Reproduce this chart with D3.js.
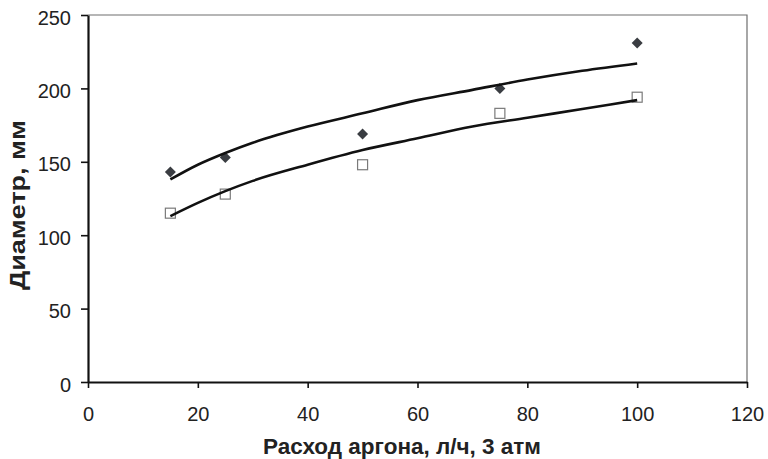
<!DOCTYPE html>
<html>
<head>
<meta charset="utf-8">
<script src="https://cdn.jsdelivr.net/npm/d3@7"></script>
<style>
  body { margin: 0; background: #fff; }
  text { font-family: "Liberation Sans", Arial, sans-serif; }
</style>
</head>
<body>
<svg id="chart"></svg>
<script>
const W = 768, H = 459;
const margin = { top: 15, right: 21, bottom: 77, left: 88 };

// measured points
const flowX = [15, 25, 50, 75, 100];
const diamondY = [143, 153, 169, 200, 231];
const squareY = [115, 128, 148, 183, 194];

// trend lines
const trendX = [15, 20, 25, 30, 40, 50, 60, 70, 80, 90, 100];
const trendUpper = [138, 148, 156, 163, 174, 183, 192, 199, 206, 212, 217];
const trendLower = [113, 122, 130, 137, 148, 158, 166, 174, 180, 186, 192];

const xTicks = [0, 20, 40, 60, 80, 100, 120];
const yTicks = [0, 50, 100, 150, 200, 250];

const width = W - margin.left - margin.right;
const height = H - margin.top - margin.bottom;

const svgEl = d3.select("#chart").attr("width", W).attr("height", H);
const svg = svgEl.append("g").attr("transform", `translate(${margin.left},${margin.top})`);

const x = d3.scaleLinear().domain([0, 120]).range([0, width]);
const y = d3.scaleLinear().domain([0, 250]).range([height, 0]);

// frame top + right
svg.append("path")
  .attr("d", `M0,0H${width}V${height}`)
  .attr("fill", "none")
  .attr("stroke", "#6e6e6e")
  .attr("stroke-width", 1.2);

const xAxis = svg.append("g")
  .attr("transform", `translate(0,${height})`)
  .call(d3.axisBottom(x).tickValues(xTicks).tickSize(6).tickPadding(19).tickSizeOuter(0));
const yAxis = svg.append("g")
  .call(d3.axisLeft(y).tickValues(yTicks).tickSize(7).tickPadding(10).tickSizeOuter(0));

[xAxis, yAxis].forEach(a => {
  a.select(".domain").attr("stroke", "#111").attr("stroke-width", 2.2);
  a.selectAll(".tick line").attr("stroke", "#111").attr("stroke-width", 1.6);
  a.selectAll(".tick text")
    .style("font-family", "'Liberation Sans', Arial, sans-serif")
    .style("font-size", "20px")
    .attr("fill", "#222");
});
yAxis.selectAll(".tick text").attr("dy", "0.45em");

const pts = (ys) => flowX.map((v, i) => [v, ys[i]]);

// squares
svg.selectAll(".sq")
  .data(pts(squareY))
  .enter().append("rect")
  .attr("x", d => x(d[0]) - 5)
  .attr("y", d => y(d[1]) - 5)
  .attr("width", 10)
  .attr("height", 10)
  .attr("fill", "#fff")
  .attr("stroke", "#7a7a7a")
  .attr("stroke-width", 1.2);

// diamonds
svg.selectAll(".dm")
  .data(pts(diamondY))
  .enter().append("path")
  .attr("transform", d => `translate(${x(d[0])},${y(d[1])})`)
  .attr("d", "M0,-5.5L5.5,0L0,5.5L-5.5,0Z")
  .attr("fill", "#3a3d42");

const line = d3.line()
  .x(d => x(d[0]))
  .y(d => y(d[1]))
  .curve(d3.curveMonotoneX);

[trendUpper, trendLower].forEach(t => {
  svg.append("path")
    .datum(trendX.map((v, i) => [v, t[i]]))
    .attr("fill", "none")
    .attr("stroke", "#111")
    .attr("stroke-width", 2.6)
    .attr("d", line);
});

svgEl.append("text")
  .attr("x", 263)
  .attr("y", 454)
  .attr("textLength", 278)
  .attr("lengthAdjust", "spacingAndGlyphs")
  .style("font-size", "22px")
  .style("font-weight", "bold")
  .attr("fill", "#222")
  .text("Расход аргона, л/ч, 3 атм");

svgEl.append("text")
  .attr("transform", `translate(25,290) rotate(-90)`)
  .attr("textLength", 170)
  .attr("lengthAdjust", "spacingAndGlyphs")
  .style("font-size", "22px")
  .style("font-weight", "bold")
  .attr("fill", "#222")
  .text("Диаметр, мм");
</script>
</body>
</html>
